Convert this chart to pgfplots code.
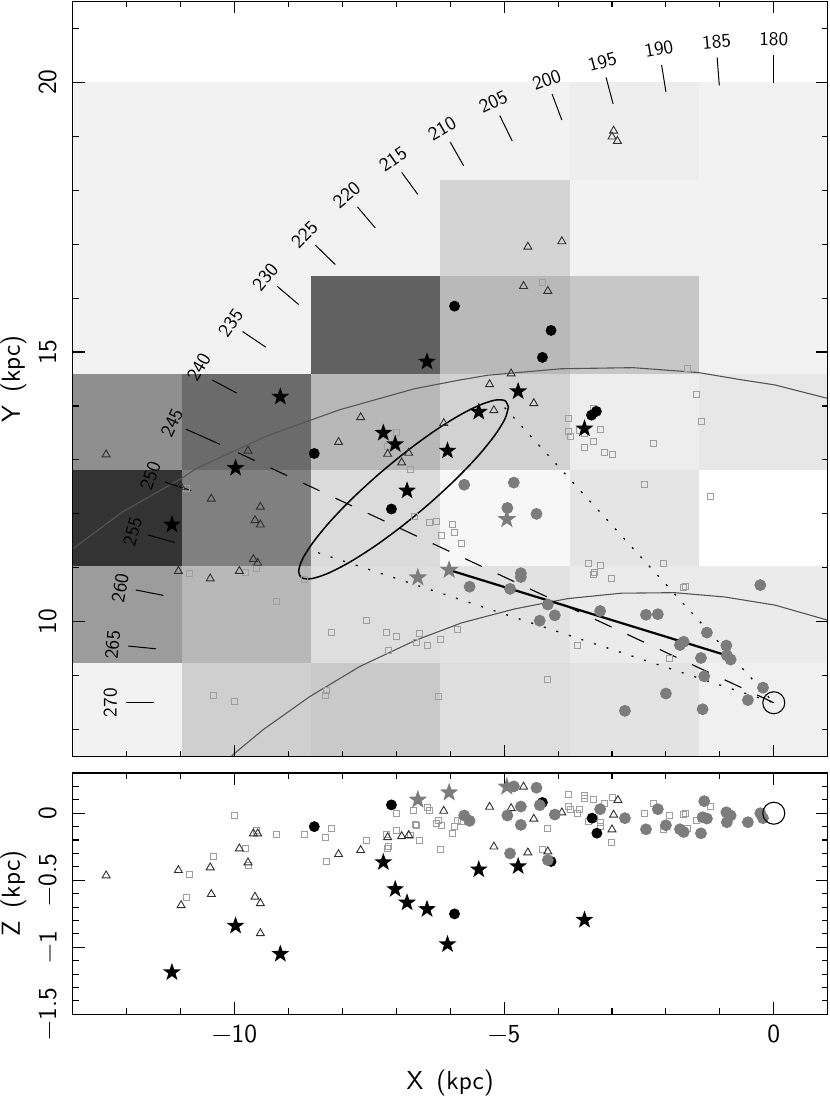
\documentclass[border=0pt]{standalone}
\usepackage{fontspec}
\usepackage{pgfplots}
\pgfplotsset{compat=1.18}
\renewcommand{\familydefault}{\sfdefault}
\definecolor{sqgray}{HTML}{9E9E9E}
\definecolor{trgray}{HTML}{303030}
\definecolor{dotgray}{HTML}{7C7C7C}
\definecolor{curvegray}{HTML}{555555}
\pgfdeclareplotmark{fstar}{%
  \pgfpathmoveto{\pgfpointpolar{90}{\pgfplotmarksize}}%
  \pgfpathlineto{\pgfpointpolar{126}{0.40\pgfplotmarksize}}%
  \pgfpathlineto{\pgfpointpolar{162}{\pgfplotmarksize}}%
  \pgfpathlineto{\pgfpointpolar{198}{0.40\pgfplotmarksize}}%
  \pgfpathlineto{\pgfpointpolar{234}{\pgfplotmarksize}}%
  \pgfpathlineto{\pgfpointpolar{270}{0.40\pgfplotmarksize}}%
  \pgfpathlineto{\pgfpointpolar{306}{\pgfplotmarksize}}%
  \pgfpathlineto{\pgfpointpolar{342}{0.40\pgfplotmarksize}}%
  \pgfpathlineto{\pgfpointpolar{18}{\pgfplotmarksize}}%
  \pgfpathlineto{\pgfpointpolar{54}{0.40\pgfplotmarksize}}%
  \pgfpathclose\pgfusepathqfill}
\newcommand\tile[5]{\addplot[fill=white!#5!black,draw=none] coordinates {(#1,#2)(#3,#2)(#3,#4)(#1,#4)} --cycle;}
\newcommand\tilerow[8]{%
  \tile{-13}{#1}{-10.98}{#2}{#3}\tile{-10.98}{#1}{-8.58}{#2}{#4}\tile{-8.58}{#1}{-6.18}{#2}{#5}%
  \tile{-6.18}{#1}{-3.78}{#2}{#6}\tile{-3.78}{#1}{-1.38}{#2}{#7}\tile{-1.38}{#1}{1}{#2}{#8}}
\newcommand\lonTick[4]{\addplot[black,line width=.5pt] coordinates {(#1,#2)(#3,#4)};}
\newcommand\lonLabel[4]{\node[rotate=#4,inner sep=0pt,font=\fontsize{9.6}{11}\selectfont] at (axis cs:#1,#2) {#3};}
\pgfplotsset{
  panel/.style={
    scale only axis, width=377.5pt, xmin=-13, xmax=1,
    axis on top, axis line style={line width=.65pt}, tick style={line width=.55pt,black},
    major tick length=6pt, minor tick length=3pt,
    xtick={-10,-5,0}, minor xtick={-12,-11,-9,-8,-7,-6,-4,-3,-2,-1},
    tick align=inside, tick pos=both,
    tick label style={font=\fontsize{13}{15}\selectfont},
    label style={font=\fontsize{13}{15}\selectfont},
    yticklabel style={rotate=90,anchor=south},
    yticklabel shift=4.5pt,
    ylabel style={at={(axis description cs:-0.0784,0.5)},anchor=center},
  },
  sq/.style={only marks,mark=square,mark size=1.5pt,color=sqgray,line width=.4pt},
  tr/.style={only marks,mark=triangle,mark size=2.3pt,color=trgray,line width=.45pt},
  bc/.style={only marks,mark=*,mark size=2.5pt,color=black,mark options={fill=black,draw=none}},
  gc/.style={only marks,mark=*,mark size=2.75pt,color=dotgray,mark options={fill=dotgray,draw=none}},
  bs/.style={only marks,mark=fstar,mark size=4.7pt,color=black,mark options={fill=black}},
  gs/.style={only marks,mark=fstar,mark size=4.9pt,color=dotgray,mark options={fill=dotgray}},
  sun/.style={only marks,mark=o,mark size=5.5pt,color=black,line width=.55pt},
}
\begin{document}
\begin{tikzpicture}
\path[use as bounding box] (0,0) rectangle (415pt,549pt);
\begin{axis}[panel, at={(36.35pt,170.65pt)}, anchor=south west, height=377.7pt,
  ymin=7.5, ymax=21.5, ytick={10,15,20}, yticklabels={10,15,20}, minor ytick={8,9,11,12,13,14,16,17,18,19,21},
  xticklabels={}, ylabel={Y\hspace{.5em}(kpc)}]
\tilerow{18.18}{20}{95}{95}{95}{95}{93}{95}
\tilerow{16.4}{18.18}{95}{95}{95}{83}{95}{95}
\tilerow{14.6}{16.4}{95}{95}{38}{72.5}{78}{95}
\tilerow{12.82}{14.6}{56}{42}{72}{82.5}{93}{90.5}
\tilerow{11.03}{12.82}{20}{50}{86}{97}{90}{100}
\tilerow{9.24}{11.03}{61}{72}{87}{88.5}{92}{92}
\tilerow{7.5}{9.24}{95}{81}{79}{87}{89}{94}
% Galactic curves
\addplot[curvegray,line width=.55pt] coordinates {(-13,11.35)(-12.07,12.04)(-10.98,12.66)(-10.71,12.84)(-9.41,13.44)(-8.58,13.74)(-8.05,13.93)(-6.66,14.32)(-5.83,14.48)(-5.3,14.57)(-3.94,14.69)(-2.61,14.71)(-1.40,14.62)(-0.63,14.49)(0.02,14.39)(1.0,14.14)};
\addplot[curvegray,line width=.55pt] coordinates {(-10.09,7.47)(-10,7.56)(-9.47,8.0)(-8.61,8.61)(-7.68,9.17)(-6.66,9.65)(-5.79,9.98)(-4.8,10.24)(-3.82,10.43)(-2.83,10.53)(-1.84,10.54)(-0.91,10.46)(0.02,10.31)(1.0,10.03)};
% squares
\addplot[sq] coordinates {(-10.89,12.48)(-10.84,10.90)(-9.80,10.91)(-9.59,10.99)(-10.40,8.64)(-10.0,8.52)(-9.22,10.37)(-8.71,10.78)(-8.30,8.73)(-8.31,8.63)(-8.21,9.80)(-7.55,10.03)(-7.19,9.80)(-7.0,9.73)(-7.14,9.47)(-6.99,13.51)(-7.16,13.26)(-6.73,12.82)(-6.67,11.96)(-6.38,11.85)(-6.26,11.86)(-5.96,11.80)(-5.92,11.65)(-6.17,11.61)(-5.79,11.46)(-6.57,9.78)(-6.62,9.61)(-6.43,9.56)(-6.18,9.67)(-5.86,9.85)(-6.21,8.61)(-4.19,8.94)(-3.65,9.56)(-3.43,11.09)(-3.21,11.05)(-3.32,10.91)(-3.34,10.88)(-3.02,10.80)(-2.04,11.09)(-1.67,10.63)(-1.63,10.65)(-1.93,9.33)(-2.39,12.55)(-1.18,12.32)(-1.43,14.22)(-1.34,13.72)(-2.24,13.30)(-3.81,13.77)(-3.80,13.53)(-3.77,13.43)(-3.60,13.55)(-3.52,13.5)(-3.21,13.56)(-3.34,13.35)(-3.52,13.24)(-3.14,13.14)(-2.99,13.11)(-3.34,13.95)(-4.29,16.29)(-1.61,14.70)};
% triangles
\addplot[tr] coordinates {(-12.38,13.10)(-10.99,12.50)(-10.43,12.28)(-9.52,12.13)(-9.62,11.88)(-9.52,11.80)(-9.65,11.16)(-9.57,11.09)(-11.04,10.94)(-9.91,10.94)(-10.45,10.80)(-9.75,13.17)(-8.07,13.33)(-7.66,13.79)(-7.16,13.11)(-6.90,12.95)(-6.77,13.13)(-5.27,14.40)(-4.45,14.05)(-5.19,13.92)(-6.12,13.68)(-4.87,14.60)(-2.97,19.10)(-3.0,18.99)(-2.90,18.91)(-4.56,16.95)(-3.93,17.05)(-4.64,16.22)(-4.19,16.13)};
% circles
\addplot[gc] coordinates {(-5.74,12.54)(-4.82,12.58)(-4.94,12.11)(-4.40,12.0)(-4.69,10.90)(-4.69,10.83)(-5.64,10.65)(-4.89,10.61)(-4.19,10.32)(-4.06,10.12)(-4.34,10.02)(-3.22,10.20)(-2.37,10.13)(-2.15,10.14)(-0.25,10.68)(-1.24,9.80)(-0.88,9.56)(-1.67,9.63)(-1.74,9.57)(-1.35,9.33)(-0.87,9.38)(-0.80,9.30)(-1.29,8.99)(-2.0,8.67)(-2.76,8.35)(-1.32,8.38)(-0.48,8.55)(-0.20,8.78)};
\addplot[bc] coordinates {(-8.52,13.12)(-7.09,12.09)(-5.92,15.85)(-4.13,15.40)(-4.29,14.90)(-3.29,13.90)(-3.38,13.83)};
\addplot[gs] coordinates {(-6.6,10.82)(-6.02,10.96)(-4.95,11.90)};
\addplot[bs] coordinates {(-9.15,14.17)(-9.98,12.85)(-11.16,11.80)(-7.24,13.50)(-7.02,13.29)(-6.80,12.43)(-4.74,14.27)(-5.47,13.89)(-6.05,13.17)(-3.51,13.58)(-6.43,14.82)};
% ellipse
\addplot[black,line width=.75pt,smooth] coordinates {(-4.92,13.98)(-4.986,14.099)(-5.181,14.106)(-5.490,14.000)(-5.893,13.790)(-6.362,13.488)(-6.865,13.115)(-7.368,12.698)(-7.838,12.264)(-8.240,11.844)(-8.549,11.464)(-8.744,11.153)(-8.81,10.93)(-8.744,10.811)(-8.549,10.804)(-8.240,10.910)(-7.838,11.120)(-7.368,11.422)(-6.865,11.795)(-6.362,12.212)(-5.893,12.646)(-5.490,13.066)(-5.181,13.446)(-4.986,13.757)(-4.92,13.98)};
% lines of sight
\addplot[black,line width=.55pt,dash pattern=on 9.2pt off 8.7pt] coordinates {(0,8.5)(-9.97,13.15)};
\addplot[black,line width=.65pt,dash pattern=on 1pt off 5.3pt] coordinates {(-4.99,13.97)(0,8.5)};
\addplot[black,line width=.65pt,dash pattern=on 1pt off 5.6pt] coordinates {(-8.45,11.28)(0,8.5)};
\addplot[black,line width=1.1pt] coordinates {(-6.02,10.96)(-0.85,9.37)};
\addplot[sun] coordinates {(0,8.5)};
% longitude ticks
\lonTick{0}{20.50}{0}{19.99}
\lonTick{-1.05}{20.46}{-1.01}{19.94}
\lonTick{-2.08}{20.32}{-2.0}{19.82}
\lonTick{-3.11}{20.09}{-2.98}{19.60}
\lonTick{-4.11}{19.78}{-3.93}{19.30}
\lonTick{-5.08}{19.38}{-4.85}{18.91}
\lonTick{-6.0}{18.89}{-5.75}{18.45}
\lonTick{-6.90}{18.33}{-6.60}{17.92}
\lonTick{-7.72}{17.69}{-7.39}{17.30}
\lonTick{-8.50}{16.98}{-8.13}{16.62}
\lonTick{-9.21}{16.22}{-8.81}{15.88}
\lonTick{-9.85}{15.38}{-9.42}{15.09}
\lonTick{-10.41}{14.48}{-9.96}{14.24}
\lonTick{-10.90}{13.57}{-10.27}{13.29}
\lonTick{-11.29}{12.59}{-10.80}{12.43}
\lonTick{-11.60}{11.61}{-11.11}{11.47}
\lonTick{-11.83}{10.59}{-11.32}{10.49}
\lonTick{-11.97}{9.55}{-11.46}{9.50}
\lonTick{-12.01}{8.50}{-11.50}{8.50}
\lonLabel{0.0}{20.79}{180}{0}
\lonLabel{-1.06}{20.75}{185}{5}
\lonLabel{-2.13}{20.62}{190}{10}
\lonLabel{-3.18}{20.38}{195}{15}
\lonLabel{-4.21}{20.04}{200}{20}
\lonLabel{-5.20}{19.64}{205}{25}
\lonLabel{-6.15}{19.14}{210}{30}
\lonLabel{-7.06}{18.57}{215}{35}
\lonLabel{-7.92}{17.91}{220}{40}
\lonLabel{-8.70}{17.18}{225}{45}
\lonLabel{-9.43}{16.39}{230}{50}
\lonLabel{-10.07}{15.54}{235}{55}
\lonLabel{-10.66}{14.72}{240}{60}
\lonLabel{-11.16}{13.69}{245}{65}
\lonLabel{-11.56}{12.70}{250}{70}
\lonLabel{-11.89}{11.67}{255}{75}
\lonLabel{-12.12}{10.63}{260}{80}
\lonLabel{-12.26}{9.57}{265}{85}
\lonLabel{-12.30}{8.50}{270}{90}
\end{axis}
\begin{axis}[panel, at={(36.35pt,41.85pt)}, anchor=south west, height=120.65pt,
  ymin=-1.5, ymax=0.3, ytick={-1.5,-1,-0.5,0}, yticklabels={−1.5,−1,−0.5,0},
  minor ytick={-1.4,-1.3,-1.2,-1.1,-0.9,-0.8,-0.7,-0.6,-0.4,-0.3,-0.2,-0.1,0.1,0.2},
  xticklabels={−10,−5,0}, xlabel={X\hspace{.5em}(kpc)}, ylabel={Z\hspace{.5em}(kpc)},
  xticklabel shift=2pt,
  xlabel style={at={(axis description cs:0.5,-0.285)},anchor=center}]
\addplot[sq] coordinates {(-10.0,-0.02)(-9.59,-0.13)(-9.80,-0.26)(-10.40,-0.32)(-10.84,-0.46)(-10.89,-0.63)(-9.75,-0.386)(-9.22,-0.16)(-8.71,-0.16)(-8.31,-0.18)(-8.21,-0.11)(-8.30,-0.36)(-7.55,-0.20)(-7.19,-0.16)(-7.14,-0.25)(-7.16,-0.26)(-7.0,0.0)(-6.99,-0.13)(-6.73,-0.167)(-6.69,0.02)(-6.65,-0.087)(-6.62,-0.09)(-6.58,-0.20)(-6.42,0.04)(-6.38,0.02)(-6.26,-0.077)(-6.21,-0.05)(-6.17,-0.09)(-6.18,-0.27)(-5.96,-0.15)(-5.92,-0.10)(-5.86,-0.05)(-5.79,-0.06)(-4.29,-0.27)(-4.19,-0.11)(-3.81,0.14)(-3.80,0.05)(-3.77,0.03)(-3.65,0.0)(-3.60,0.03)(-3.52,0.13)(-3.51,0.11)(-3.34,0.10)(-3.43,-0.06)(-3.21,-0.067)(-3.21,-0.10)(-3.32,-0.04)(-3.14,0.07)(-2.99,0.12)(-3.02,-0.22)(-2.39,0)(-2.24,0.07)(-2.04,-0.12)(-1.93,-0.02)(-1.67,-0.01)(-1.63,0)(-1.61,-0.11)(-1.43,-0.05)(-1.34,-0.04)(-1.18,0.05)};
\addplot[tr] coordinates {(-12.38,-0.465)(-11.04,-0.425)(-10.99,-0.687)(-10.45,-0.405)(-10.43,-0.604)(-9.91,-0.264)(-9.75,-0.368)(-9.65,-0.152)(-9.57,-0.152)(-9.62,-0.624)(-9.52,-0.672)(-9.52,-0.896)(-8.07,-0.306)(-7.66,-0.276)(-7.16,-0.18)(-6.90,-0.172)(-6.77,-0.164)(-6.12,0.017)(-5.27,0.047)(-5.19,-0.25)(-4.87,0.037)(-4.64,0.197)(-4.56,-0.294)(-4.45,-0.042)(-4.19,-0.286)(-3.93,0.005)(-2.97,-0.012)(-3.0,-0.122)(-2.89,0.097)};
\addplot[bc] coordinates {(-8.52,-0.10)(-7.09,0.062)(-5.92,-0.751)(-4.13,-0.36)(-4.29,0.08)(-3.37,-0.037)(-3.28,-0.149)};
\addplot[gc] coordinates {(-5.74,-0.017)(-4.82,0.2)(-4.94,-0.017)(-4.40,0.19)(-4.69,0.05)(-4.69,-0.087)(-5.64,-0.057)(-4.89,-0.30)(-4.19,-0.35)(-4.06,-0.01)(-4.34,0.06)(-3.22,0.03)(-2.37,-0.12)(-2.15,0.03)(-0.25,0.0)(-1.24,-0.04)(-0.88,0.007)(-1.67,-0.14)(-1.74,-0.12)(-1.35,-0.15)(-0.87,-0.067)(-0.80,-0.017)(-1.29,0.09)(-2.0,-0.09)(-2.76,-0.037)(-1.32,-0.03)(-0.48,-0.067)(-0.20,-0.037)};
\addplot[gs] coordinates {(-6.6,0.10)(-6.02,0.154)(-4.95,0.197)};
\addplot[bs] coordinates {(-11.16,-1.187)(-9.98,-0.84)(-9.15,-1.05)(-7.24,-0.366)(-7.02,-0.567)(-6.80,-0.667)(-6.43,-0.716)(-6.05,-0.978)(-5.47,-0.42)(-4.74,-0.396)(-3.51,-0.796)};
\addplot[sun] coordinates {(0,0)};
\end{axis}
\end{tikzpicture}
\end{document}
